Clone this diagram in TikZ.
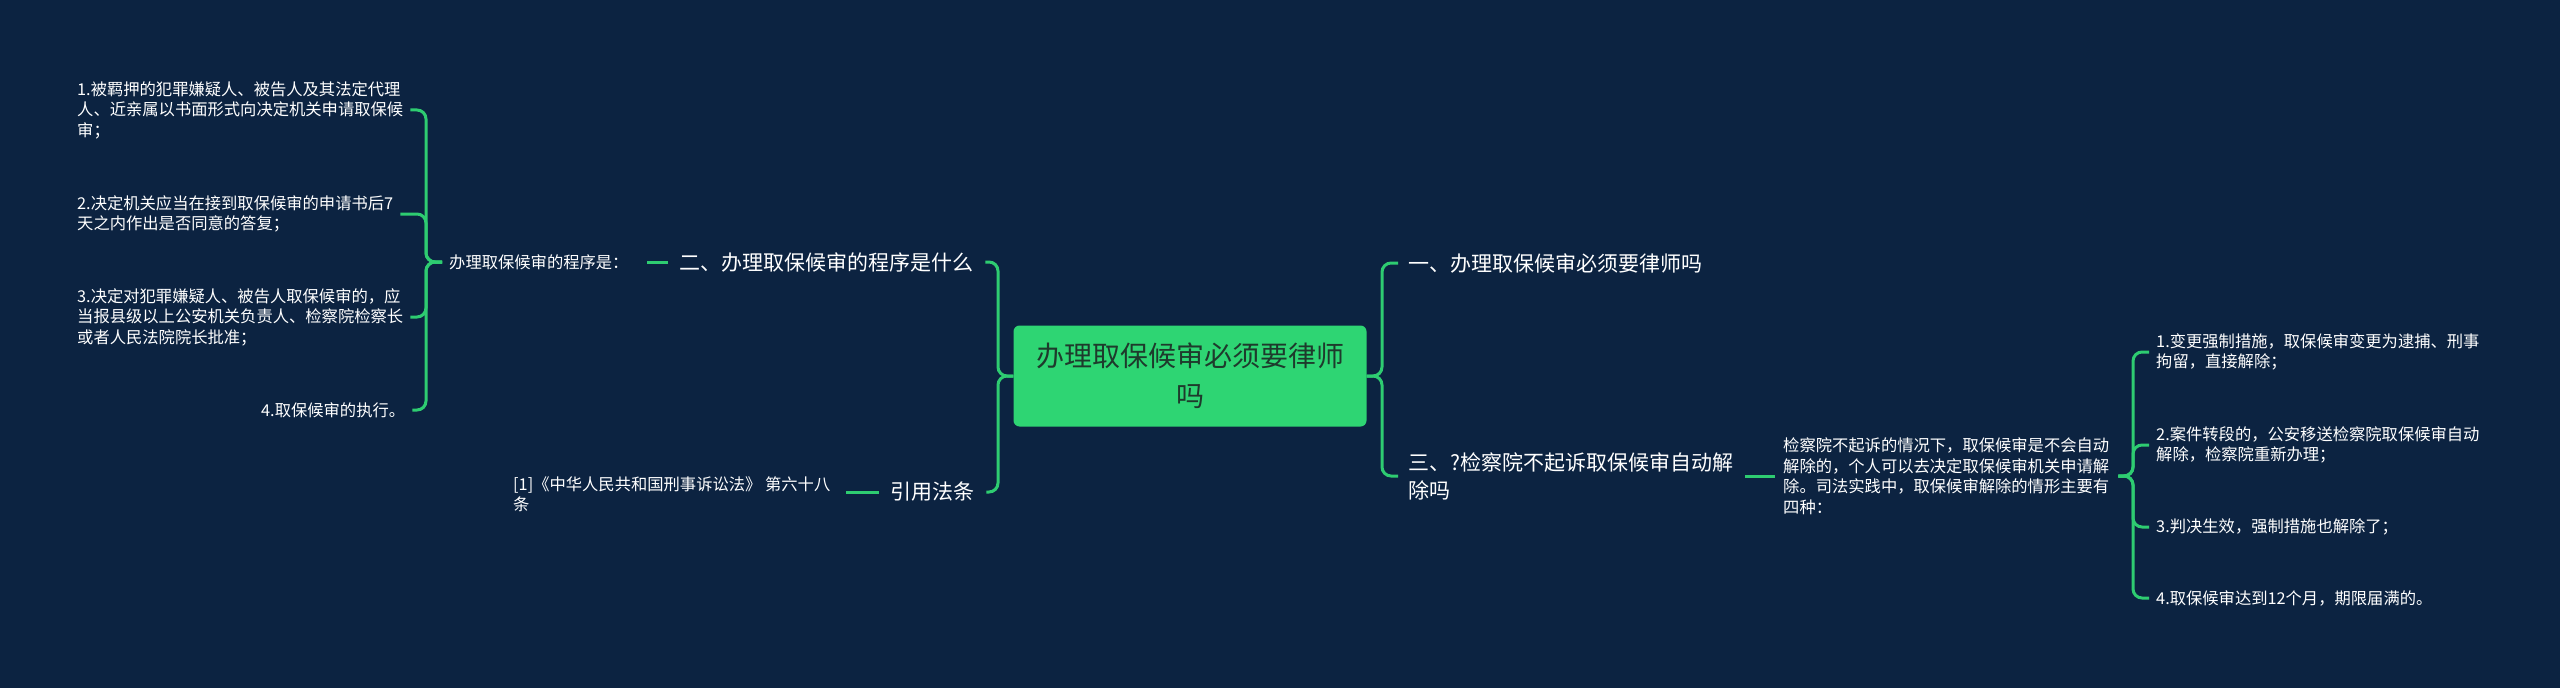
\documentclass[tikz,border=0pt]{standalone}
\usepackage{fontspec}
\setmainfont{Noto Sans CJK SC}
\usetikzlibrary{calc}
\definecolor{bgc}{HTML}{0C2341}
\definecolor{gfill}{HTML}{2ED573}
\definecolor{gline}{HTML}{2ECC71}
\definecolor{darktxt}{HTML}{1E3A2C}
\tikzset{
  conn/.style={draw=gline, line width=3bp, rounded corners=9bp},
  big/.style={inner sep=0pt, text=white, font=\fontsize{21bp}{28bp}\selectfont, align=left},
  small/.style={inner sep=0pt, text=white, font=\fontsize{16.3bp}{20.5bp}\selectfont, align=left},
  rootbox/.style={rectangle, rounded corners=6bp, fill=gfill, text=darktxt, minimum width=353bp, minimum height=101bp, align=center, font=\fontsize{28bp}{40bp}\selectfont, inner sep=0pt}
}
\begin{document}
\begin{tikzpicture}[x=1bp, y=-1bp]
\useasboundingbox (0,0) rectangle (2560,688);
\fill[bgc] (0,0) rectangle (2560,688);

% root
\node[rootbox] (root) at (1190,376) {办理取保候审必须要律师\\吗};

% left branch
\node[big, anchor=west] (n2) at (679,262) {二、办理取保候审的程序是什么};
\node[big, anchor=west] (law) at (890,492) {引用法条};
\node[small, anchor=west] (proc) at (449,262) {办理取保候审的程序是：};
\node[small, anchor=west] (ref) at (513,494) {[1]《中华人民共和国刑事诉讼法》 第六十八\\条};
\node[small, anchor=west] (i1) at (77,110) {1.被羁押的犯罪嫌疑人、被告人及其法定代理\\人、近亲属以书面形式向决定机关申请取保候\\审；};
\node[small, anchor=west] (i2) at (77,214) {2.决定机关应当在接到取保候审的申请书后7\\天之内作出是否同意的答复；};
\node[small, anchor=west] (i3) at (77,317) {3.决定对犯罪嫌疑人、被告人取保候审的，应\\当报县级以上公安机关负责人、检察院检察长\\或者人民法院院长批准；};
\node[small, anchor=west] (i4) at (261,410) {4.取保候审的执行。};

% right branch
\node[big, anchor=west] (n1) at (1408,263) {一、办理取保候审必须要律师吗};
\node[big, anchor=west] (n3) at (1408,476) {三、?检察院不起诉取保候审自动解\\除吗};
\node[small, anchor=west] (desc) at (1783,476) {检察院不起诉的情况下，取保候审是不会自动\\解除的，个人可以去决定取保候审机关申请解\\除。司法实践中，取保候审解除的情形主要有\\四种：};
\node[small, anchor=west] (r1) at (2156,352) {1.变更强制措施，取保候审变更为逮捕、刑事\\拘留，直接解除；};
\node[small, anchor=west] (r2) at (2156,445) {2.案件转段的，公安移送检察院取保候审自动\\解除，检察院重新办理；};
\node[small, anchor=west] (r3) at (2156,527) {3.判决生效，强制措施也解除了；};
\node[small, anchor=west] (r4) at (2156,598) {4.取保候审达到12个月，期限届满的。};

% connectors: root to left children
\foreach \c in {n2,law}{
  \draw[conn] (root.west) -- (998,376) |- ($(\c.east)+(12,0)$);
}
% root to right children
\foreach \c in {n1,n3}{
  \draw[conn] (root.east) -- (1382,376) |- ($(\c.west)+(-10,0)$);
}
% n2 -> proc
\draw[conn] ($(n2.west)+(-11,0)$) -- ($(proc.east)+(18,0)$);
% law -> ref (horizontal at the level of law)
\coordinate (refend) at ($(ref.east)+(15,0)$);
\draw[conn] ($(law.west)+(-11,0)$) -- (law.west -| refend);
% proc -> items
\foreach \c in {i1,i2,i3,i4}{
  \draw[conn] ($(proc.west)+(-7,0)$) -- (426,262) |- ($(\c.east)+(7,0)$);
}
% n3 -> desc
\draw[conn] ($(n3.east)+(12,0)$) -- ($(desc.west)+(-8,0)$);
% desc -> r items
\foreach \c in {r1,r2,r3,r4}{
  \draw[conn] ($(desc.east)+(9,0)$) -- (2133,476) |- ($(\c.west)+(-7,0)$);
}
\end{tikzpicture}
\end{document}
